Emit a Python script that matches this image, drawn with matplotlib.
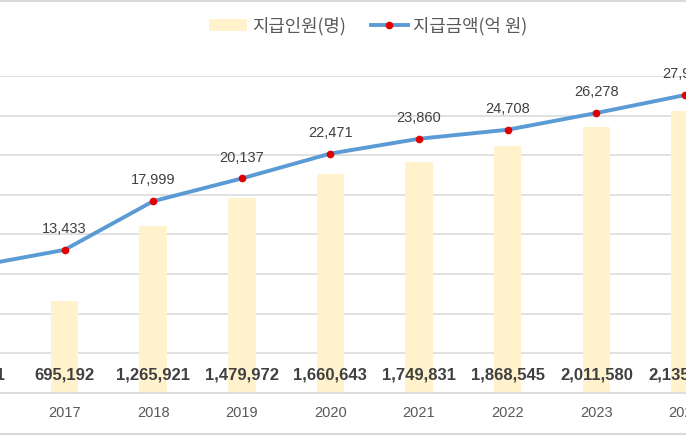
import matplotlib.pyplot as plt
from matplotlib.lines import Line2D

years = ['2016', '2017', '2018', '2019', '2020', '2021', '2022', '2023', '2024']
people = [590521, 695192, 1265921, 1479972, 1660643, 1749831, 1868545, 2011580, 2135412]
amount = [11900, 13433, 17999, 20137, 22471, 23860, 24708, 26278, 27960]

num_font = ['Liberation Sans', 'DejaVu Sans']
kr_font = ['Noto Sans CJK KR', 'DejaVu Sans']

fig = plt.figure(figsize=(6.86, 4.40), dpi=100)
ax = fig.add_axes([0, 47 / 440, 1, 317 / 440])
ax2 = ax.twinx()

x = list(range(len(years)))
bars = ax.bar(x, people, width=0.31, color='#FFF2CC', zorder=2, label='지급인원(명)')
ax.set_ylim(0, 2400000)
ax.set_yticks(range(0, 2400001, 300000))
ax.yaxis.grid(True, color='#D9D9D9', lw=1.1, zorder=0)
ax.set_axisbelow(True)
ax.set_xlim(0.2723, 8.0115)
ax.set_xticks(x)
ax.set_xticklabels(years, fontsize=10.5, color='#595959', family=num_font)
ax.tick_params(axis='x', length=0, pad=9)
ax.tick_params(axis='y', length=0, labelleft=False)
for s in ['top', 'left', 'right']:
    ax.spines[s].set_visible(False)
ax.spines['bottom'].set_color('#D9D9D9')
ax.spines['bottom'].set_linewidth(1.2)

for i, v in enumerate(people):
    ax.annotate(f'{v:,}', xy=(i, 0), xytext=(0, 13), textcoords='offset points',
                ha='center', va='center', fontsize=12, fontweight='bold',
                color='#404040', family=num_font, annotation_clip=False, zorder=5)

ax2.plot(x, amount, color='#5B9BD5', lw=2.8, marker='o', markersize=4.5,
         markerfacecolor='#E00000', markeredgecolor='#E00000', zorder=4,
         label='지급금액(억 원)')
ax2.set_ylim(0, 29750)
ax2.set_xlim(0.2723, 8.0115)
ax2.axis('off')
for i, v in enumerate(amount):
    ax2.annotate(f'{v:,}', xy=(i, v), xytext=(0, 15), textcoords='offset points',
                 ha='center', va='center', fontsize=10.5, color='#404040',
                 family=num_font, annotation_clip=False)

handles = [bars, ax2.get_lines()[0]]
leg = fig.legend(handles, ['지급인원(명)', '지급금액(억 원)'], loc='center',
                 bbox_to_anchor=(0.537, 0.941), ncol=2, frameon=False,
                 handlelength=2.1, handletextpad=0.3, columnspacing=1.4,
                 prop={'family': kr_font, 'size': 12.8})
for t in leg.get_texts():
    t.set_color('#595959')

fig.add_artist(Line2D([0, 1], [0.998, 0.998], color='#D9D9D9', lw=1.5))
fig.add_artist(Line2D([0, 1], [1 - 434 / 440, 1 - 434 / 440], color='#D9D9D9', lw=1.5))

fig.savefig('out.png', dpi=100)
